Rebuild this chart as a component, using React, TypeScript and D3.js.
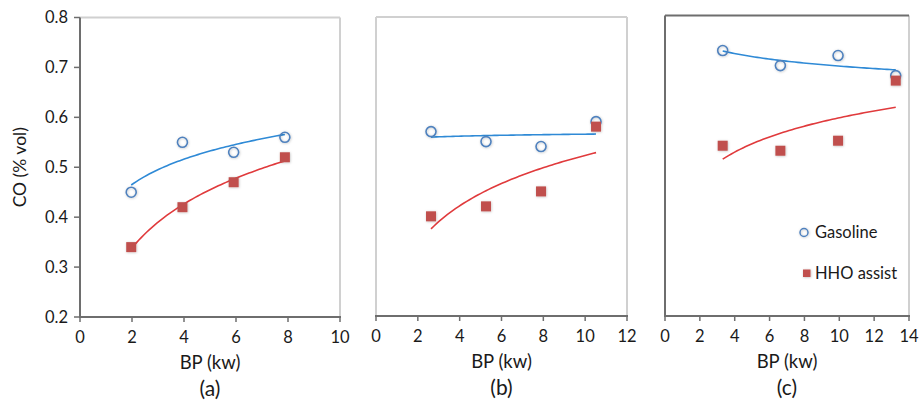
import React from 'react';
import * as d3 from 'd3';

const panelLabels = ['(a)', '(b)', '(c)'];
const xMaxes = [10, 12, 14];
const bpA = [1.97, 3.94, 5.91, 7.88];
const gasA = [0.45, 0.55, 0.53, 0.56];
const hhoA = [0.34, 0.42, 0.47, 0.52];
const bpB = [2.63, 5.26, 7.89, 10.52];
const gasB = [0.57, 0.55, 0.54, 0.59];
const hhoB = [0.4, 0.42, 0.45, 0.58];
const bpC = [3.31, 6.62, 9.93, 13.24];
const gasC = [0.73, 0.7, 0.72, 0.68];
const hhoC = [0.54, 0.53, 0.55, 0.67];
const yTicks = [0.2, 0.3, 0.4, 0.5, 0.6, 0.7, 0.8];
const seriesNames = ['Gasoline', 'HHO assist'];
const xTitle = 'BP (kw)';
const yTitle = 'CO (% vol)';

const FONT = 'Lato, "Liberation Sans", sans-serif';
const BLUE_M = '#4f81bd';
const BLUE_L = '#2f8ad6';
const RED_M = '#c0504d';
const RED_L = '#e03a3c';
const AXIS = '#6e6e6e';
const LIGHT = '#d0d0d0';
const TEXT = '#1a1a1a';

type Panel = {
  bp: number[]; gas: number[]; hho: number[];
  left: number; right: number; top: number; bottom: number;
  leftStyle: 'axis' | 'light' | 'dark'; topStyle: 'light' | 'dark';
};

const panels: Panel[] = [
  { bp: bpA, gas: gasA, hho: hhoA, left: 80, right: 340, top: 17.5, bottom: 317, leftStyle: 'axis', topStyle: 'light' },
  { bp: bpB, gas: gasB, hho: hhoB, left: 376, right: 627, top: 17, bottom: 316, leftStyle: 'light', topStyle: 'light' },
  { bp: bpC, gas: gasC, hho: hhoC, left: 665, right: 909, top: 15.5, bottom: 316, leftStyle: 'dark', topStyle: 'dark' },
];

function logFit(xs: number[], ys: number[]) {
  const lx = xs.map(Math.log);
  const mx = d3.mean(lx) as number;
  const my = d3.mean(ys) as number;
  let cov = 0, v = 0;
  lx.forEach((l, i) => { cov += (l - mx) * (ys[i] - my); v += (l - mx) * (l - mx); });
  const b = cov / v;
  const a = my - b * mx;
  return (x: number) => a + b * Math.log(x);
}

function PanelView({ p, idx }: { p: Panel; idx: number }) {
  const x = d3.scaleLinear().domain([0, xMaxes[idx]]).range([p.left, p.right]);
  const y = d3.scaleLinear().domain([0.2, 0.8]).range([p.bottom, p.top]);
  const xt = d3.range(0, xMaxes[idx] + 0.001, 2);
  const line = d3.line<[number, number]>().x(d => x(d[0])).y(d => y(d[1]));
  const mk = (xs: number[], ys: number[]) => {
    const f = logFit(xs, ys);
    const lo = d3.min(xs) as number, hi = d3.max(xs) as number;
    const pts: [number, number][] = d3.range(0, 61).map(i => {
      const xv = lo + (hi - lo) * i / 60;
      return [xv, f(xv)];
    });
    return line(pts) as string;
  };
  const cx = (p.left + p.right) / 2;
  return (
    <g>
      <line x1={p.right} x2={p.right} y1={p.top} y2={p.bottom} stroke={LIGHT} strokeWidth={2} />
      <line x1={p.left} x2={p.right} y1={p.top} y2={p.top} stroke={p.topStyle === 'dark' ? AXIS : LIGHT} strokeWidth={2} />
      <line x1={p.left} x2={p.left} y1={p.top} y2={p.bottom}
        stroke={p.leftStyle === 'light' ? LIGHT : AXIS} strokeWidth={2} />
      {p.leftStyle === 'axis' && yTicks.map(t => (
        <g key={t}>
          <line x1={p.left - 6} x2={p.left} y1={y(t)} y2={y(t)} stroke={AXIS} strokeWidth={1.5} />
          <text x={p.left - 12} y={y(t)} dy="0.35em" textAnchor="end" fontSize={16.5} fill={TEXT} fontFamily={FONT}>{t.toFixed(1)}</text>
        </g>
      ))}
      <line x1={p.left - 1} x2={p.right + 1} y1={p.bottom} y2={p.bottom} stroke={AXIS} strokeWidth={2} />
      {xt.map(t => (
        <g key={t}>
          <line x1={x(t)} x2={x(t)} y1={p.bottom} y2={p.bottom + 5} stroke={AXIS} strokeWidth={1.5} />
          <text x={x(t)} y={p.bottom + 20} dy="0.35em" textAnchor="middle" fontSize={16.5} fill={TEXT} fontFamily={FONT}>{t}</text>
        </g>
      ))}
      <text x={cx} y={p.bottom + 46} dy="0.35em" textAnchor="middle" fontSize={18.5} fill={TEXT} fontFamily={FONT}>{xTitle}</text>
      <text x={cx} y={p.bottom + 72} dy="0.35em" textAnchor="middle" fontSize={21} fill={TEXT} fontFamily={FONT}>{panelLabels[idx]}</text>
      <path d={mk(p.bp, p.gas)} fill="none" stroke={BLUE_L} strokeWidth={1.6} />
      <path d={mk(p.bp, p.hho)} fill="none" stroke={RED_L} strokeWidth={1.6} />
      <g filter="url(#sh)">
        {p.gas.map((v, i) => (
          <circle key={'g' + i} cx={x(p.bp[i])} cy={y(v)} r={5} fill="none" stroke={BLUE_M} strokeWidth={1.6} />
        ))}
        {p.hho.map((v, i) => (
          <rect key={'h' + i} x={x(p.bp[i]) - 5} y={y(v) - 5} width={10} height={10} fill={RED_M} />
        ))}
      </g>
    </g>
  );
}

export default function App() {
  const p0 = panels[0];
  return (
    <svg width={920} height={402} style={{ position: 'absolute', left: 0, top: 0, background: '#fff' }}>
      <defs>
        <filter id="sh" x="-50%" y="-50%" width="200%" height="200%">
          <feDropShadow dx={0.5} dy={0.5} stdDeviation={1} floodColor="#000" floodOpacity={0.25} />
        </filter>
      </defs>
      <rect width={920} height={402} fill="#fff" />
      <text transform={`translate(20,${(p0.top + p0.bottom) / 2}) rotate(-90)`} dy="0.35em" textAnchor="middle" fontSize={17.5} fill={TEXT} fontFamily={FONT}>{yTitle}</text>
      {panels.map((p, i) => <PanelView key={i} p={p} idx={i} />)}
      <g filter="url(#sh)">
        <circle cx={804} cy={232.5} r={4} fill="none" stroke={BLUE_M} strokeWidth={1.5} />
        <rect x={803} y={269.5} width={7.5} height={7.5} fill={RED_M} />
      </g>
      <text x={815} y={232.5} dy="0.35em" fontSize={16.5} fill={TEXT} fontFamily={FONT}>{seriesNames[0]}</text>
      <text x={815} y={273} dy="0.35em" fontSize={16.5} fill={TEXT} fontFamily={FONT}>{seriesNames[1]}</text>
    </svg>
  );
}
